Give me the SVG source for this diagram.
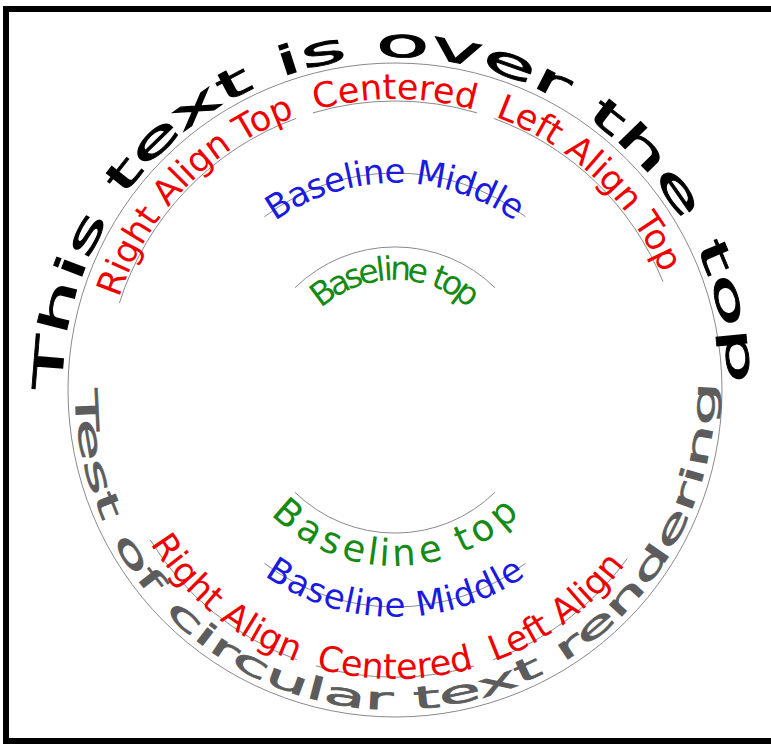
<svg xmlns="http://www.w3.org/2000/svg" xmlns:xlink="http://www.w3.org/1999/xlink" width="771" height="744" viewBox="0 0 771 744">
<style>
text{font-family:"DejaVu Sans","Liberation Sans",sans-serif}
.guide{fill:none;stroke:#8a8a8a;stroke-width:1}
.black{fill:#000;font-size:40px;stroke:#000;stroke-width:0.9}
.gray{fill:#5c5c5c;font-size:31px;stroke:#5c5c5c;stroke-width:0.7}
.red{fill:#f00000;font-size:35px}
.blue{fill:#1a1ae0;font-size:34px}
.green{fill:#158a15}
</style>
<defs>
<path id="pBlack" d="M62,390 A333,333 0 0 1 728,390"/>
<path id="pGray" d="M75,390 A320,320 0 1 0 713.8,362.1"/>
<path id="pRedTop" d="M104,390 A291,291 0 0 1 686,390"/>
<path id="pRedBot" d="M106,390 A289,289 0 0 0 684,390"/>
<path id="pBlueTop" d="M178,390 A217,217 0 0 1 612,390"/>
<path id="pBlueBot" d="M178,390 A217,217 0 0 0 612,390"/>
<path id="pGreenTop" d="M252,390 A143,143 0 0 1 538,390"/>
<path id="pGreenBot" d="M252,390 A143,143 0 0 0 538,390"/>
</defs>
<rect x="6" y="9" width="900" height="732" fill="#fff" stroke="#000" stroke-width="6"/>
<g id="connectors">
<circle class="guide" cx="395" cy="390" r="327"/>
<path class="guide" d="M119.4,303.1 A289,289 0 0 1 296.2,118.4"/>
<path class="guide" d="M312.9,112.9 A289,289 0 0 1 477.1,112.9"/>
<path class="guide" d="M493.8,118.4 A289,289 0 0 1 663,281.7"/>
<path class="guide" d="M150.3,540 A287,287 0 0 0 296.8,659.7"/>
<path class="guide" d="M315.9,665.9 A287,287 0 0 0 474.1,665.9"/>
<path class="guide" d="M493.2,659.7 A287,287 0 0 0 627.2,558.7"/>
<path class="guide" d="M264.4,216.7 A217,217 0 0 1 525.6,216.7"/>
<path class="guide" d="M264.4,563.3 A217,217 0 0 0 525.6,563.3"/>
<path class="guide" d="M294.9,287.8 A143,143 0 0 1 495.1,287.8"/>
<path class="guide" d="M294.9,492.2 A143,143 0 0 0 495.1,492.2"/>
</g>
<g id="outer-top"><text class="black"><textPath xlink:href="#pBlack" href="#pBlack" textLength="1040" lengthAdjust="spacingAndGlyphs">This text is over the top</textPath></text></g>
<g id="outer-bottom"><text class="gray"><textPath xlink:href="#pGray" href="#pGray" textLength="1012" lengthAdjust="spacingAndGlyphs">Test of circular text rendering</textPath></text></g>
<g id="red-top">
<text class="red" text-anchor="end"><textPath xlink:href="#pRedTop" href="#pRedTop" startOffset="355">Right Align Top</textPath></text>
<text class="red" text-anchor="middle"><textPath xlink:href="#pRedTop" href="#pRedTop" startOffset="50%">Centered</textPath></text>
<text class="red" text-anchor="start"><textPath xlink:href="#pRedTop" href="#pRedTop" startOffset="559">Left Align Top</textPath></text>
</g>
<g id="red-bottom">
<text class="red" text-anchor="end"><textPath xlink:href="#pRedBot" href="#pRedBot" startOffset="353">Right Align</textPath></text>
<text class="red" text-anchor="middle"><textPath xlink:href="#pRedBot" href="#pRedBot" startOffset="50%">Centered</textPath></text>
<text class="red" text-anchor="start"><textPath xlink:href="#pRedBot" href="#pRedBot" startOffset="555">Left Align</textPath></text>
</g>
<g id="blue-top"><text class="blue" text-anchor="middle" dominant-baseline="middle"><textPath xlink:href="#pBlueTop" href="#pBlueTop" startOffset="50%">Baseline Middle</textPath></text></g>
<g id="blue-bottom"><text class="blue" text-anchor="middle" dominant-baseline="middle"><textPath xlink:href="#pBlueBot" href="#pBlueBot" startOffset="50%">Baseline Middle</textPath></text></g>
<g id="green-top"><text class="green" font-size="33" text-anchor="middle" dominant-baseline="hanging" dy="8"><textPath xlink:href="#pGreenTop" href="#pGreenTop" startOffset="50%">Baseline top</textPath></text></g>
<g id="green-bottom"><text class="green" font-size="37" text-anchor="middle" dominant-baseline="hanging" dy="6"><textPath xlink:href="#pGreenBot" href="#pGreenBot" startOffset="50%">Baseline top</textPath></text></g>
</svg>
